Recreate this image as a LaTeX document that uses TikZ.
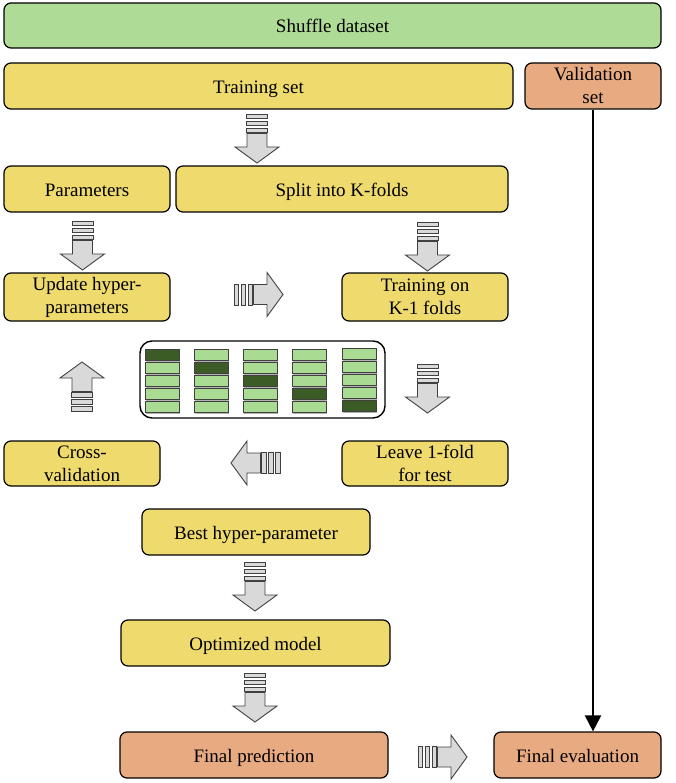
\documentclass[tikz,border=0pt]{standalone}
\usepackage{fontspec}
\setmainfont{Liberation Serif}
\usetikzlibrary{arrows.meta}
\definecolor{gbox}{HTML}{AEDB95}
\definecolor{ybox}{HTML}{EEDA6D}
\definecolor{obox}{HTML}{E8AA80}
\definecolor{cellL}{HTML}{A9DB92}
\definecolor{cellD}{HTML}{3C5C26}
\definecolor{arrfill}{HTML}{D9D9D9}
\definecolor{arrline}{HTML}{404040}
\tikzset{
  box/.style={draw=black, line width=1.2pt, rounded corners=7pt, inner sep=0pt, align=center,
    font=\fontsize{19}{23}\selectfont},
  oneline/.style={text height=16pt, text depth=1pt},
  stripe/.style={draw=arrline, fill=arrfill, line width=0.9pt},
  arrowbody/.style={draw=arrline, fill=arrfill, line width=0.9pt, line join=miter},
  cell/.style={draw=arrline, line width=0.6pt},
  barrow/.pic={
    \foreach \s in {0,7,14} \draw[stripe] (\s,-10.5) rectangle (\s+4.6,10.5);
    \draw[arrowbody] (19.5,-10) -- (33,-10) -- (33,-22) -- (49,0) -- (33,22) -- (33,10) -- (19.5,10) -- cycle;
  }
}
\begin{document}
\begin{tikzpicture}[x=1pt,y=-1pt]
\useasboundingbox (0,0) rectangle (675,783);
% boxes
\node[box, oneline, fill=gbox, minimum width=657, minimum height=45] (shuffle) at (332.5,25.5) {Shuffle dataset};
\node[box, oneline, fill=ybox, minimum width=509, minimum height=46] (train) at (258.5,86) {Training set};
\node[box, fill=obox, minimum width=136, minimum height=46] (val) at (593,86) {Validation\\set};
\node[box, oneline, fill=ybox, minimum width=166, minimum height=46] (params) at (87,189) {Parameters};
\node[box, oneline, fill=ybox, minimum width=332, minimum height=46] (split) at (342,189) {Split into K-folds};
\node[box, fill=ybox, minimum width=166, minimum height=48] (update) at (87,297) {Update hyper-\\parameters};
\node[box, fill=ybox, minimum width=166, minimum height=48] (traink) at (425,297) {Training on\\K-1 folds};
\node[box, fill=white, line width=1.4pt, rounded corners=12pt, minimum width=245, minimum height=77] (panel) at (262.5,379.5) {};
\node[box, fill=ybox, minimum width=156, minimum height=45] (cross) at (82,463.5) {Cross-\\validation};
\node[box, fill=ybox, minimum width=166, minimum height=45] (leave) at (425,463.5) {Leave 1-fold\\for test};
\node[box, oneline, fill=ybox, minimum width=228, minimum height=46] (best) at (256,532) {Best hyper-parameter};
\node[box, oneline, fill=ybox, minimum width=269, minimum height=46] (opt) at (255.5,643) {Optimized model};
\node[box, oneline, fill=obox, minimum width=268, minimum height=46] (pred) at (254,755) {Final prediction};
\node[box, oneline, fill=obox, minimum width=167, minimum height=46] (eval) at (577.5,755) {Final evaluation};
% fold cells
\foreach \c/\x in {0/145,1/194,2/243,3/292,4/342} {
  \foreach \r in {0,...,4} {
    \pgfmathsetmacro{\yy}{349+13*\r-(\c==4 ? 1 : 0)}
    \fill[gray!60] (\x+1,\yy+1.2) rectangle (\x+35,\yy+12.7);
    \ifnum\c=\r
      \draw[cell, fill=cellD] (\x,\yy) rectangle (\x+34,\yy+11.5);
    \else
      \draw[cell, fill=cellL] (\x,\yy) rectangle (\x+34,\yy+11.5);
    \fi
  }
}
% block arrows
\pic[rotate=-90] at (257,114) {barrow};
\pic[rotate=-90] at (82.5,221) {barrow};
\pic[rotate=-90] at (427.5,222) {barrow};
\pic at (234,294.5) {barrow};
\pic[rotate=-90] at (427.5,364) {barrow};
\pic[rotate=180] at (280,463) {barrow};
\pic[rotate=90] at (82,411) {barrow};
\pic[rotate=-90] at (255,562) {barrow};
\pic[rotate=-90] at (255,673) {barrow};
\pic at (418,757) {barrow};
% validation line
\draw[line width=2pt, -{Triangle[width=16pt,length=16pt]}] (val.south) -- (val.south |- eval.north);
\end{tikzpicture}
\end{document}
